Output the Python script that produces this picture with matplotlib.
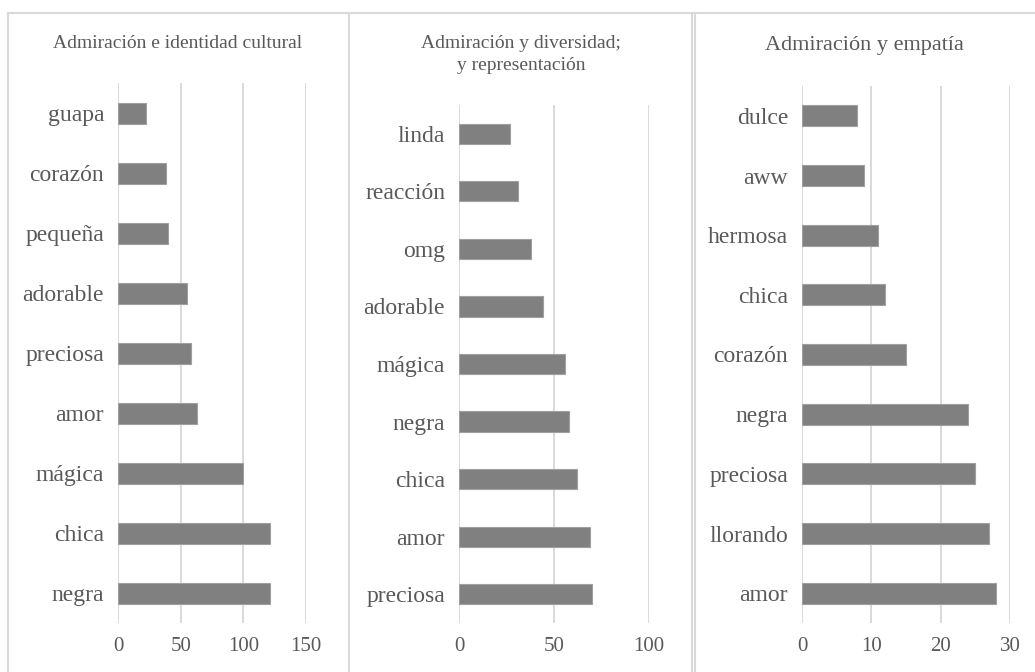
import matplotlib
matplotlib.use("Agg")
import matplotlib.pyplot as plt
from matplotlib.lines import Line2D

FAM = ['Liberation Serif', 'DejaVu Serif']
plt.rcParams['font.family'] = FAM

# ---- data (top to bottom) ----
titles = ["Admiración e identidad cultural",
          "Admiración y diversidad;\ny representación",
          "Admiración y empatía"]

cats1 = ["guapa", "corazón", "pequeña", "adorable", "preciosa", "amor", "mágica", "chica", "negra"]
vals1 = [22, 38, 40, 55, 58, 63, 100, 121, 121]
ticks1 = [0, 50, 100, 150]

cats2 = ["linda", "reacción", "omg", "adorable", "mágica", "negra", "chica", "amor", "preciosa"]
vals2 = [27, 31, 38, 44, 56, 58, 62, 69, 70]
ticks2 = [0, 50, 100]

cats3 = ["dulce", "aww", "hermosa", "chica", "corazón", "negra", "preciosa", "llorando", "amor"]
vals3 = [8, 9, 11, 12, 15, 24, 25, 27, 28]
ticks3 = [0, 10, 20, 30]

W, H = 1035, 672
fig = plt.figure(figsize=(W / 100, H / 100), dpi=100)

def px_axes(x0, x1, ytop, ybot):
    return fig.add_axes([x0 / W, (H - ybot) / H, (x1 - x0) / W, (ybot - ytop) / H])

TXT = "#595959"
GRID = "#d9d9d9"
BAR = "#808080"

panels = [
    (cats1, vals1, ticks1, titles[0], (118, 306, 83, 623), 178, 14, 35),
    (cats2, vals2, ticks2, titles[1], (459, 649, 105, 623), 521, 14, 35),
    (cats3, vals3, ticks3, titles[2], (802, 1010, 86, 623), 864, 16, 36),
]

for cats, vals, ticks, title, box, tx, tfs, ty in panels:
    ax = px_axes(*box)
    y = list(range(len(cats)))
    ax.barh(y, vals, height=0.35, color=BAR, edgecolor="#a0a0a0", linewidth=0.8, zorder=3)
    ax.set_ylim(len(cats) - 0.5, -0.5)
    ax.set_xlim(ticks[0], ticks[-1])
    ax.set_yticks(y)
    ax.set_yticklabels(cats, family=FAM, fontsize=17, color=TXT)
    ax.set_xticks(ticks)
    ax.set_xticklabels([str(t) for t in ticks], family=FAM, fontsize=15, color=TXT)
    ax.tick_params(axis='y', length=0, pad=10)
    ax.tick_params(axis='x', length=0, pad=10)
    ax.grid(axis='x', color=GRID, linewidth=1.4, zorder=0)
    ax.set_axisbelow(True)
    for s in ax.spines.values():
        s.set_visible(False)
    fig.text(tx / W, 1 - ty / H, title, ha='center', va='top', family=FAM,
             fontsize=tfs, color=TXT, linespacing=1.4)

# panel frames
lw = 1.5
def fline(xs, ys):
    fig.add_artist(Line2D([x / W for x in xs], [1 - y / H for y in ys],
                          color=GRID, linewidth=lw))

fline([8, W], [13, 13])
fline([8, 8], [13, H])
fline([349, 349], [13, H])
fline([692, 692], [13, H])
fline([695, 695], [13, H])

fig.savefig("out.png", dpi=100, facecolor="white")
